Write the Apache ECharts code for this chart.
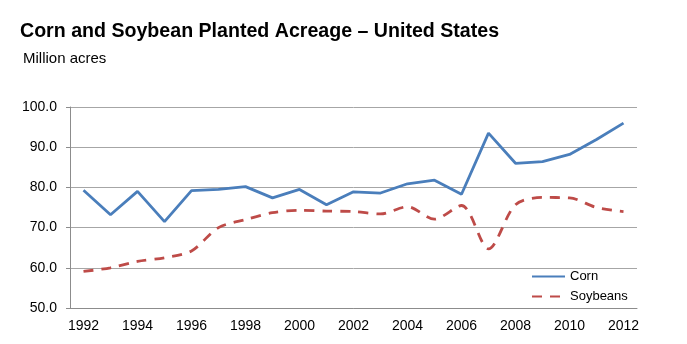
<!DOCTYPE html>
<html><head><meta charset="utf-8">
<script src="https://cdn.jsdelivr.net/npm/echarts@6/dist/echarts.min.js"></script>
<style>html,body{margin:0;padding:0;background:#fff}#c{width:687px;height:344px}</style>
</head><body><div id="c"></div>
<script>
var years = ['1992','1993','1994','1995','1996','1997','1998','1999','2000','2001','2002','2003','2004','2005','2006','2007','2008','2009','2010','2011','2012'];
var corn = [79.3,73.2,79.0,71.5,79.2,79.5,80.2,77.4,79.5,75.7,78.9,78.6,80.9,81.8,78.3,93.5,86.0,86.4,88.2,91.9,96.0];
var soybeans = [59.1,60.0,61.6,62.5,64.2,70.0,72.0,73.7,74.3,74.1,74.0,73.4,75.2,72.1,75.5,64.7,75.7,77.5,77.4,75.0,74.0];
var yTicks = ['50.0','60.0','70.0','80.0','90.0','100.0'];
var titleText = 'Corn and Soybean Planted Acreage \u2013 United States';
var subText = 'Million acres';

var chart = echarts.init(document.getElementById('c'), null, {renderer:'canvas'});
chart.setOption({
  backgroundColor:'#ffffff',
  animation:false,
  title:[{text:titleText,left:20,top:22,padding:0,textStyle:{fontFamily:'Liberation Sans',fontWeight:'bold',fontSize:19.6,color:'#000'}},
         {text:subText,left:23,top:51,padding:0,textStyle:{fontFamily:'Liberation Sans',fontWeight:'normal',fontSize:15,color:'#000'}}],
  legend:{orient:'vertical',left:531,top:270,padding:0,itemWidth:33,itemHeight:14,itemGap:7,
    itemStyle:{opacity:0},
    textStyle:{fontFamily:'Liberation Sans',fontSize:13,color:'#000'},
    data:['Corn','Soybeans']},
  grid:{left:70,right:50,top:107,bottom:36,containLabel:false},
  xAxis:{type:'category',data:years,boundaryGap:true,
    axisLine:{lineStyle:{color:'#8c8c8c',width:1}},
    axisTick:{alignWithLabel:true,interval:0,length:5,lineStyle:{color:'#8c8c8c'}},
    axisLabel:{interval:1,color:'#000',fontFamily:'Liberation Sans',fontSize:14,margin:11}},
  yAxis:{type:'value',min:50,max:100,interval:10,
    axisLine:{show:true,lineStyle:{color:'#8c8c8c'}},
    axisTick:{show:true,length:4,lineStyle:{color:'#8c8c8c'}},
    splitLine:{lineStyle:{color:'#a6a6a6',width:1}},
    axisLabel:{formatter:function(v){return v.toFixed(1);},color:'#000',fontFamily:'Liberation Sans',fontSize:14,margin:13}},
  series:[
    {name:'Corn',type:'line',data:corn,symbol:'none',lineStyle:{color:'#4a7ebb',width:2.8},itemStyle:{color:'#4a7ebb'}},
    {name:'Soybeans',type:'line',data:soybeans,symbol:'none',smooth:0.3,lineStyle:{color:'#be4b48',width:2.8,type:[10,8]},itemStyle:{color:'#be4b48'}}
  ]
});
</script></body></html>
